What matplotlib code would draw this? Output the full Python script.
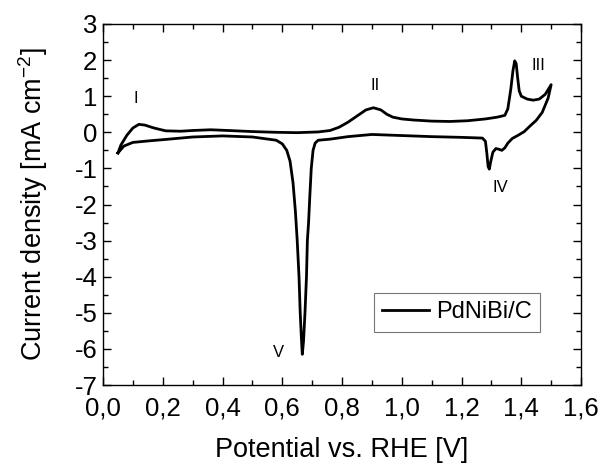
import matplotlib
matplotlib.use("Agg")
import matplotlib.pyplot as plt
from matplotlib.ticker import MultipleLocator, FuncFormatter

plt.rcParams['font.family'] = ['Liberation Sans', 'DejaVu Sans']
plt.rcParams['mathtext.default'] = 'regular'
plt.rcParams['axes.unicode_minus'] = False

# anodic sweep (0.05 V -> 1.5 V)
x_anodic = [0.05, 0.06, 0.08, 0.10, 0.12, 0.14, 0.17, 0.21, 0.26, 0.30, 0.36, 0.42,
            0.50, 0.58, 0.65, 0.72, 0.76, 0.79, 0.82, 0.85, 0.88, 0.905, 0.93, 0.95,
            0.97, 1.00, 1.04, 1.10, 1.16, 1.22, 1.28, 1.32, 1.345, 1.355, 1.365, 1.372,
            1.378, 1.383, 1.388, 1.393, 1.40, 1.42, 1.44, 1.46, 1.48, 1.50]
j_anodic = [-0.57, -0.35, -0.08, 0.12, 0.22, 0.20, 0.12, 0.04, 0.03, 0.05, 0.07, 0.05,
            0.02, 0.00, -0.01, 0.01, 0.05, 0.14, 0.28, 0.45, 0.62, 0.68, 0.62, 0.50,
            0.42, 0.37, 0.34, 0.31, 0.30, 0.32, 0.37, 0.42, 0.47, 0.65, 1.2, 1.7,
            1.98, 1.9, 1.5, 1.15, 1.0, 0.92, 0.89, 0.92, 1.05, 1.32]

# cathodic sweep (1.5 V -> 0.05 V)
x_cathodic = [1.50, 1.49, 1.47, 1.45, 1.43, 1.41, 1.39, 1.37, 1.355, 1.345, 1.335, 1.325,
              1.315, 1.305, 1.298, 1.293, 1.289, 1.285, 1.28, 1.27, 1.20, 1.10, 1.00, 0.90,
              0.82, 0.76, 0.72, 0.71, 0.703, 0.697, 0.692, 0.688, 0.684, 0.681, 0.676,
              0.671, 0.667, 0.664, 0.660, 0.656, 0.650, 0.644, 0.636, 0.626, 0.615, 0.60,
              0.58, 0.50, 0.40, 0.30, 0.22, 0.15, 0.10, 0.07, 0.05]
j_cathodic = [1.32, 0.95, 0.55, 0.33, 0.18, 0.02, -0.08, -0.17, -0.30, -0.43, -0.50, -0.47,
              -0.45, -0.55, -0.8, -1.02, -0.95, -0.6, -0.25, -0.16, -0.14, -0.12, -0.09, -0.06,
              -0.12, -0.19, -0.22, -0.30, -0.5, -1.0, -1.8, -2.5, -3.0, -4.0, -5.0,
              -5.8, -6.15, -5.7, -5.0, -4.0, -3.0, -2.2, -1.4, -0.8, -0.5, -0.32,
              -0.22, -0.13, -0.10, -0.13, -0.19, -0.24, -0.28, -0.38, -0.57]

peak_labels = ['I', 'II', 'III', 'IV', 'V']
peak_x = [0.11, 0.91, 1.457, 1.331, 0.587]
peak_y = [0.95, 1.29, 1.86, -1.53, -6.1]

fig = plt.figure(figsize=(6.14, 4.66), dpi=100)
ax = fig.add_axes([0.1678, 0.1738, 0.7785, 0.7747])

ax.plot(x_anodic + x_cathodic, j_anodic + j_cathodic, color='black', lw=2.0,
        label='PdNiBi/C', solid_joinstyle='round')

for lab, px, py in zip(peak_labels, peak_x, peak_y):
    ax.text(px, py, lab, ha='center', va='center', fontsize=12)

ax.set_xlim(0, 1.6)
ax.set_ylim(-7, 3)
ax.xaxis.set_major_locator(MultipleLocator(0.2))
ax.xaxis.set_minor_locator(MultipleLocator(0.1))
ax.yaxis.set_major_locator(MultipleLocator(1))
ax.yaxis.set_minor_locator(MultipleLocator(0.5))
ax.xaxis.set_major_formatter(FuncFormatter(lambda v, p: f"{v:.1f}".replace('.', ',')))
ax.yaxis.set_major_formatter(FuncFormatter(lambda v, p: f"{v:.0f}"))

ax.tick_params(which='both', direction='in', top=True, right=True, width=1.0)
ax.tick_params(which='major', length=6, labelsize=18.5)
ax.tick_params(which='minor', length=3.5)
ax.tick_params(axis='x', which='major', pad=8)
ax.tick_params(axis='y', which='major', pad=4)
for s in ax.spines.values():
    s.set_linewidth(1.0)

ax.set_xlabel('Potential vs. RHE [V]', fontsize=19.5, labelpad=12)
ax.set_ylabel('Current density [mA cm$^{-2}$]', fontsize=19.5, labelpad=18)

leg = ax.legend(loc='lower left', bbox_to_anchor=(0.566, 0.148), fontsize=17,
                frameon=True, fancybox=False, edgecolor='#555555', handlelength=2.0,
                handletextpad=0.3, borderpad=0.35, borderaxespad=0)
leg.get_frame().set_linewidth(0.8)

fig.savefig('out.png', dpi=100)
